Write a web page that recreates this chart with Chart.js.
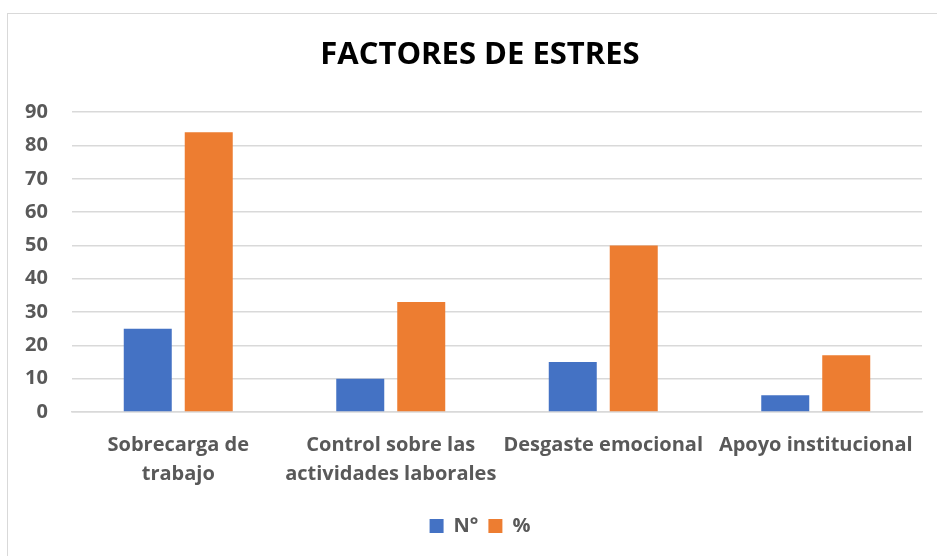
<!DOCTYPE html>
<html>
<head>
<meta charset="utf-8">
<script src="https://cdn.jsdelivr.net/npm/chart.js@4"></script>
<style>
    body { margin: 0; background: #fff; overflow: hidden; }
    #wrap { position: relative; width: 937px; height: 556px; }
    #frame {
        position: absolute; left: 7px; top: 13px; width: 1000px; height: 1000px;
        border: 1.5px solid #d9d9d9; pointer-events: none;
    }
</style>
</head>
<body>
<div id="wrap">
    <canvas id="chart-canvas" width="937" height="556"></canvas>
    <div id="frame"></div>
</div>
<script>
const categories = [
    ['Sobrecarga de', 'trabajo'],
    ['Control sobre las', 'actividades laborales'],
    'Desgaste emocional',
    'Apoyo institucional'
];
const seriesN = [25, 10, 15, 5];
const seriesPct = [84, 33, 50, 17];
const yTicks = [0, 10, 20, 30, 40, 50, 60, 70, 80, 90];

const FONT = '"Open Sans", Lato, sans-serif';
const GREY = '#595959';

function drawChart() {
    const ctx = document.getElementById('chart-canvas');

    new Chart(ctx, {
    type: 'bar',
    data: {
        labels: categories,
        datasets: [
            {
                label: 'N°',
                data: seriesN,
                backgroundColor: '#4472C4',
                categoryPercentage: 0.574,
                barPercentage: 0.787
            },
            {
                label: '%',
                data: seriesPct,
                backgroundColor: '#ED7D31',
                categoryPercentage: 0.574,
                barPercentage: 0.787
            }
        ]
    },
    options: {
        responsive: false,
        animation: false,
        layout: {
            padding: { left: 38, right: 15, top: 0, bottom: 10 }
        },
        plugins: {
            title: {
                display: true,
                text: 'FACTORES DE ESTRES',
                color: '#000',
                font: { family: FONT, size: 31, weight: 'bold' },
                padding: { top: 37, bottom: 38 }
            },
            legend: {
                position: 'bottom',
                labels: {
                    color: GREY,
                    font: { family: FONT, size: 20, weight: 'bold' },
                    boxWidth: 14,
                    boxHeight: 14,
                    padding: 10
                }
            },
            tooltip: { enabled: false }
        },
        scales: {
            x: {
                grid: { display: false },
                border: { color: '#d9d9d9', width: 1.5 },
                ticks: {
                    color: GREY,
                    font: { family: FONT, size: 20, weight: 'bold', lineHeight: 1.45 },
                    maxRotation: 0,
                    autoSkip: false,
                    padding: 11
                },
                afterFit: (axis) => { axis.height = 94; }
            },
            y: {
                min: 0,
                max: 90,
                afterBuildTicks: (axis) => { axis.ticks = yTicks.map(v => ({ value: v })); },
                grid: { color: '#d9d9d9', lineWidth: 1.5, drawTicks: false },
                border: { display: false },
                ticks: {
                    color: GREY,
                    font: { family: FONT, size: 20, weight: 'bold' },
                    // mirrored so the labels are not clipped to the narrow axis box
                    mirror: true,
                    crossAlign: 'far',
                    padding: -47
                },
                afterFit: (axis) => { axis.width = 34; }
            }
        }
    }
    });
}

drawChart();
</script>
</body>
</html>
